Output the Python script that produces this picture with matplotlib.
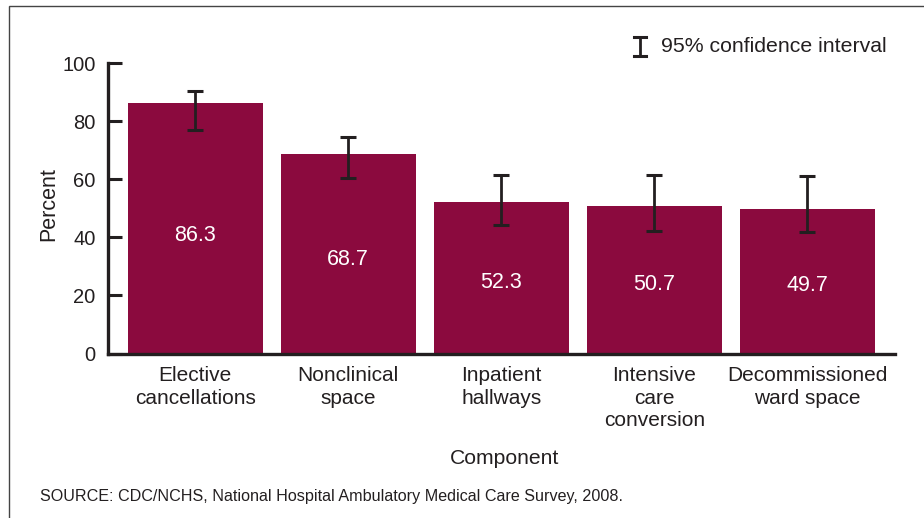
import matplotlib
matplotlib.use("Agg")
import matplotlib.pyplot as plt
from matplotlib.lines import Line2D
from matplotlib.patches import Rectangle
import numpy as np

plt.rcParams["font.family"] = ["Liberation Sans", "DejaVu Sans"]

# datos
componentes = ["Elective\ncancellations", "Nonclinical\nspace", "Inpatient\nhallways",
               "Intensive\ncare\nconversion", "Decommissioned\nward space"]
porcentajes = [86.3, 68.7, 52.3, 50.7, 49.7]
ic_inferior = [77.0, 60.4, 44.2, 42.2, 41.9]
ic_superior = [90.6, 74.5, 61.4, 61.4, 61.2]
ticks_y = [0, 20, 40, 60, 80, 100]

COLOR_BARRA = "#8B0A3E"
NEGRO = "#231f20"

fig = plt.figure(figsize=(9.24, 5.18), dpi=100)
ax = fig.add_axes([108 / 924, 1 - 353.5 / 518, (895 - 108) / 924, (353.5 - 63.3) / 518])

x = np.arange(len(componentes))
vals = np.array(porcentajes)
err = [vals - np.array(ic_inferior), np.array(ic_superior) - vals]

ax.bar(x, vals, width=0.88, color=COLOR_BARRA, zorder=2)
ax.errorbar(x, vals, yerr=err, fmt="none", ecolor=NEGRO, elinewidth=2.0,
            capsize=5.5, capthick=2.2, zorder=3)

# etiquetas de valor dentro de la barra (un poco por debajo de la mitad)
for xi, v in zip(x, vals):
    ax.text(xi, v * 0.47, f"{v:.1f}", ha="center", va="center", color="white", fontsize=15.5)

ax.set_xlim(-0.57, 4.572)
ax.set_ylim(0, 100)
ax.set_yticks(ticks_y)
ax.set_xticks(x)
ax.set_xticklabels(componentes, fontsize=15, linespacing=1.25)
ax.tick_params(axis="y", direction="in", length=10, width=2.2, color=NEGRO,
               labelsize=14.5, pad=9, labelcolor=NEGRO)
ax.tick_params(axis="x", length=0, pad=9, labelcolor=NEGRO)

for lado in ["top", "right"]:
    ax.spines[lado].set_visible(False)
for lado in ["left", "bottom"]:
    ax.spines[lado].set_linewidth(2.4)
    ax.spines[lado].set_color(NEGRO)

fig.text(49 / 924, 1 - 204 / 518, "Percent", rotation=90, ha="center", va="center",
         fontsize=15.5, color=NEGRO)
fig.text(505 / 924, 1 - 458 / 518, "Component", ha="center", va="center",
         fontsize=15.2, color=NEGRO)
fig.text(40 / 924, 1 - 496 / 518,
         "SOURCE: CDC/NCHS, National Hospital Ambulatory Medical Care Survey, 2008.",
         ha="left", va="center", fontsize=11.6, color=NEGRO)

# leyenda del intervalo de confianza
lx, ly0, ly1 = 640 / 924, 1 - 56 / 518, 1 - 37 / 518
fig.add_artist(Line2D([lx, lx], [ly0, ly1], color=NEGRO, lw=2.0))
for yy in (ly0, ly1):
    fig.add_artist(Line2D([lx - 6 / 924, lx + 6 / 924], [yy, yy], color=NEGRO, lw=2.2))
fig.text(661 / 924, 1 - 46 / 518, "95% confidence interval", ha="left", va="center",
         fontsize=15.3, color=NEGRO)

# marco exterior
fig.add_artist(Rectangle((9 / 924, -0.1), 1.2, 1 - 6 / 518 + 0.1, transform=fig.transFigure,
                         fill=False, edgecolor="#444444", lw=1.0))

fig.savefig("out.png", dpi=100)
